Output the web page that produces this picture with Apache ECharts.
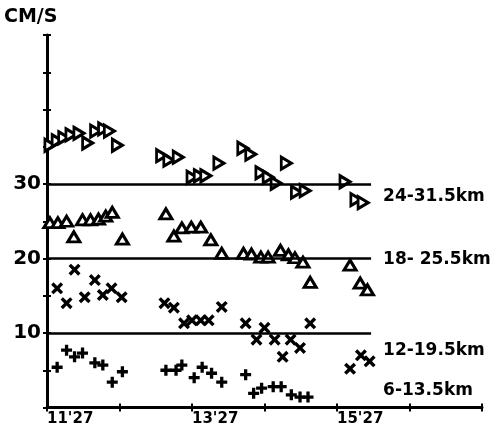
<!DOCTYPE html>
<html><head><meta charset="utf-8">
<script src="https://cdn.jsdelivr.net/npm/echarts@6/dist/echarts.min.js"></script>
<style>html,body{margin:0;padding:0;background:#fff}#c{width:492px;height:434px}</style>
</head><body><div id="c"></div>
<script>
// ---- data ----
const yUnit = 'CM/S';
const yLabelValues = [10, 20, 30];
const xLabelValues = [11, 13, 15];
const xLabelTexts = ["11'27", "13'27", "15'27"];
const refLevels = [10, 20, 30];
const refStart = 11;
const refEnd = 15.47;
const seriesNames = ['24-31.5km', '18- 25.5km', '12-19.5km', '6-13.5km'];
const labelY = [28.3, 19.8, 7.7, 2.3];

const s24 = [[11.04,35.2],[11.14,35.8],[11.23,36.2],[11.33,36.6],[11.44,36.8],[11.56,35.5],[11.67,37.1],[11.78,37.4],[11.86,37.1],[11.97,35.2],
  [12.58,33.8],[12.68,33.2],[12.81,33.6],[13.0,30.9],[13.1,31.1],[13.19,31.1],[13.37,32.8],[13.7,34.8],[13.81,34.0],[13.95,31.5],[14.05,30.9],[14.16,30.1],[14.3,32.8],[14.44,28.9],[14.56,29.1],[15.11,30.3],[15.26,27.9],[15.36,27.5]];
const s18 = [[11.04,24.8],[11.15,24.8],[11.27,25.0],[11.37,22.9],[11.49,25.2],[11.6,25.2],[11.71,25.3],[11.81,25.7],[11.9,26.2],[12.04,22.6],
  [12.64,26.0],[12.75,23.0],[12.86,24.1],[12.99,24.2],[13.12,24.2],[13.26,22.5],[13.41,20.7],[13.71,20.7],[13.82,20.6],[13.95,20.2],[14.05,20.2],[14.22,21.1],[14.33,20.5],[14.42,20.1],[14.53,19.5],[14.63,16.8],[15.18,19.1],[15.32,16.7],[15.42,15.8]];
const s12 = [[11.14,16.0],[11.27,14.0],[11.38,18.5],[11.52,14.8],[11.66,17.1],[11.77,15.1],[11.89,16.0],[12.03,14.8],
  [12.62,14.0],[12.75,13.4],[12.89,11.3],[13.0,11.7],[13.12,11.7],[13.23,11.7],[13.41,13.5],[13.74,11.3],[13.89,9.1],[14.0,10.7],[14.14,9.1],[14.25,6.8],[14.36,9.1],[14.49,8.0],[14.63,11.3],[15.18,5.2],[15.33,7.0],[15.45,6.2]];
const s6 = [[11.14,5.4],[11.27,7.7],[11.38,6.8],[11.49,7.3],[11.66,6.0],[11.77,5.7],[11.9,3.4],[12.04,4.8],
  [12.64,5.0],[12.78,5.0],[12.86,5.7],[13.03,4.0],[13.14,5.4],[13.27,4.6],[13.41,3.4],[13.74,4.4],[13.85,1.9],[13.96,2.6],[14.12,2.8],[14.23,2.8],[14.37,1.7],[14.49,1.4],[14.6,1.4]];

// ---- chart ----
const chart = echarts.init(document.getElementById('c'));
const FONT = 'DejaVu Sans';
const triRight = 'path://M0,0L10,5L0,10Z';
const xMark = 'path://M0,2L2,0L5,3L8,0L10,2L7,5L10,8L8,10L5,7L2,10L0,8L3,5Z';
const plusMark = 'path://M3.5,0H6.5V3.5H10V6.5H6.5V10H3.5V6.5H0V3.5H3.5Z';

const refLines = refLevels.map(v => [{coord: [refStart, v]}, {coord: [refEnd, v]}]);
const rightLabels = seriesNames.map((n, i) => ({coord: [refEnd, labelY[i]], value: n}));

chart.setOption({
  animation: false,
  backgroundColor: '#fff',
  grid: {left: 47, right: 10, top: 35, bottom: 26.5},
  xAxis: [{
    type: 'value', min: 11, max: 17, interval: 1,
    axisLine: {lineStyle: {color: '#000', width: 3}},
    axisTick: {show: true, length: 4, lineStyle: {color: '#000', width: 2}},
    splitLine: {show: false},
    axisLabel: {
      align: 'left', margin: 4, color: '#000', fontFamily: FONT, fontWeight: 'bold', fontSize: 15,
      formatter: v => { const i = xLabelValues.indexOf(Math.round(v)); return i >= 0 ? xLabelTexts[i] : ''; }
    }
  }, {
    type: 'value', min: 11, max: 17, interval: 1, position: 'bottom',
    axisLine: {show: false}, axisLabel: {show: false}, splitLine: {show: false},
    axisTick: {show: true, inside: true, length: 4, lineStyle: {color: '#000', width: 2}}
  }],
  yAxis: [{
    type: 'value', min: 0, max: 50, interval: 5,
    axisLine: {show: true, lineStyle: {color: '#000', width: 3}},
    axisTick: {show: true, length: 4, lineStyle: {color: '#000', width: 2}},
    splitLine: {show: false},
    axisLabel: {
      margin: 6, color: '#000', fontFamily: FONT, fontWeight: 'bold', fontSize: 20,
      formatter: v => yLabelValues.indexOf(v) >= 0 ? String(v) : ''
    }
  }, {
    type: 'value', min: 0, max: 50, interval: 5, position: 'left',
    axisLine: {show: false}, axisLabel: {show: false}, splitLine: {show: false},
    axisTick: {show: true, inside: true, length: 4, lineStyle: {color: '#000', width: 2}}
  }],
  graphic: [{
    type: 'text', left: 4, top: 8,
    style: {text: yUnit, font: 'bold 19px "DejaVu Sans"', fill: '#000'}
  }],
  series: [
    {
      type: 'scatter', data: [], silent: true,
      markLine: {symbol: 'none', silent: true, animation: false, label: {show: false},
        lineStyle: {color: '#000', width: 2.5, type: 'solid'}, data: refLines},
      markPoint: {symbol: 'rect', symbolSize: 0, silent: true, data: rightLabels,
        label: {show: true, position: 'right', distance: 0, offset: [12, 0], formatter: p => p.value,
          color: '#000', fontFamily: FONT, fontWeight: 'bold', fontSize: 17}}
    },
    {name: seriesNames[0], type: 'scatter', data: s24, symbol: triRight, symbolSize: [10, 12], z: 3,
      itemStyle: {color: '#fff', borderColor: '#000', borderWidth: 3, opacity: 1}},
    {name: seriesNames[1], type: 'scatter', data: s18, symbol: 'triangle', symbolSize: [12, 10], z: 3,
      itemStyle: {color: '#fff', borderColor: '#000', borderWidth: 3, opacity: 1}},
    {name: seriesNames[2], type: 'scatter', data: s12, symbol: xMark, symbolSize: 12, z: 3,
      itemStyle: {color: '#000', opacity: 1}},
    {name: seriesNames[3], type: 'scatter', data: s6, symbol: plusMark, symbolSize: 11, z: 3,
      itemStyle: {color: '#000', opacity: 1}}
  ]
});
</script></body></html>
